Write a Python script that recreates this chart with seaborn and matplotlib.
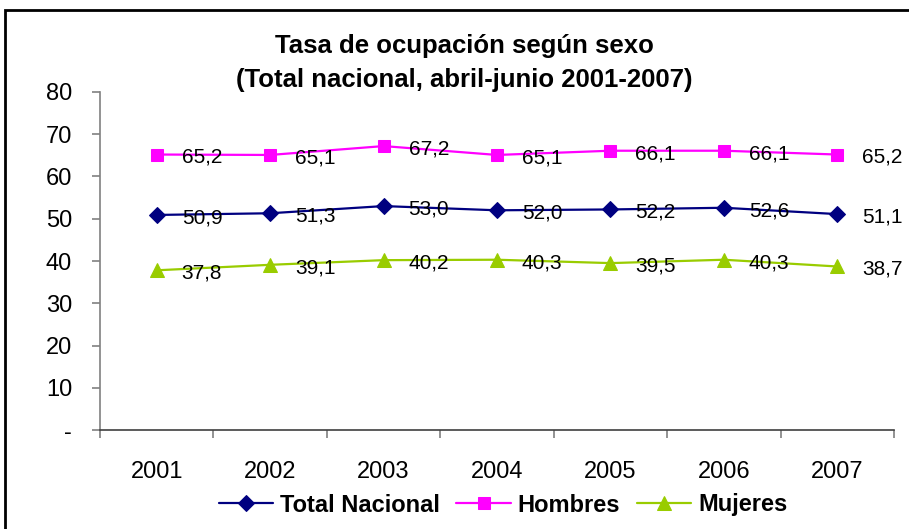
import matplotlib
matplotlib.use("Agg")
import matplotlib.pyplot as plt
import seaborn as sns
import pandas as pd
import numpy as np
from matplotlib.patches import Rectangle

sns.set_style("white")
plt.rcParams['font.family'] = ['Liberation Sans', 'DejaVu Sans']
plt.rcParams['text.color'] = 'black'
plt.rcParams['xtick.color'] = 'black'
plt.rcParams['ytick.color'] = 'black'

years = ['2001', '2002', '2003', '2004', '2005', '2006', '2007']
total = [50.9, 51.3, 53.0, 52.0, 52.2, 52.6, 51.1]
hombres = [65.2, 65.1, 67.2, 65.1, 66.1, 66.1, 65.2]
mujeres = [37.8, 39.1, 40.2, 40.3, 39.5, 40.3, 38.7]

series = ['Total Nacional', 'Hombres', 'Mujeres']
colors = ['#000080', '#FF00FF', '#99CC00']
markers = ['D', 's', '^']
sizes = [8, 9, 10]

df = pd.DataFrame({
    'pos': list(range(len(years))) * 3,
    'valor': total + hombres + mujeres,
    'serie': [s for s in series for _ in years],
})

fig = plt.figure(figsize=(9.09, 5.29), dpi=100)
ax = fig.add_axes([100 / 909, 1 - 430 / 529, 794 / 909, 338 / 529])

for s, c, m, ms in zip(series, colors, markers, sizes):
    sub = df[df['serie'] == s]
    sns.lineplot(data=sub, x='pos', y='valor', color=c, marker=m, markersize=ms,
                 markeredgecolor=c, linewidth=1.6, label=s, ax=ax)
    for x, y in zip(sub['pos'], sub['valor']):
        ax.annotate(f"{y:.1f}".replace('.', ','), (x, y), xytext=(18, -2),
                    textcoords='offset points', fontsize=15, va='center', ha='left',
                    color='black', annotation_clip=False)

ax.set_xlim(-0.5, 6.5)
ax.set_ylim(0, 80)
ax.set_xticks(range(len(years)))
ax.set_xticklabels(years)
ax.set_xticks(np.arange(-0.5, 7, 1), minor=True)
ax.set_yticks(range(0, 81, 10))
ax.set_yticklabels(['-'] + [str(v) for v in range(10, 81, 10)])
ax.tick_params(axis='x', which='major', bottom=True, length=0, pad=22, labelsize=17)
ax.tick_params(axis='x', which='minor', bottom=True, length=6, width=1.2, color='#808080',
               direction='out')
ax.tick_params(axis='y', left=True, length=6, width=1.2, color='#808080', direction='out',
               pad=14, labelsize=17)
ax.spines['top'].set_visible(False)
ax.spines['right'].set_visible(False)
ax.spines['left'].set_color('#808080')
ax.spines['bottom'].set_color('#404040')
for sp in ['left', 'bottom']:
    ax.spines[sp].set_linewidth(1.2)
ax.set_xlabel('')
ax.set_ylabel('')
ax.grid(False)

ax.legend(loc='center', bbox_to_anchor=(503 / 909, 1 - 505 / 529), bbox_transform=fig.transFigure,
          ncol=3, frameon=False, prop={'weight': 'bold', 'size': 17}, handlelength=2.3,
          handletextpad=0.3, columnspacing=0.7, borderpad=0)

fig.text(464 / 909, 1 - 46 / 529, 'Tasa de ocupación según sexo', ha='center', va='center',
         fontsize=18.5, fontweight='bold')
fig.text(464 / 909, 1 - 80 / 529, '(Total nacional, abril-junio 2001-2007)', ha='center',
         va='center', fontsize=18.5, fontweight='bold')

fig.patches.append(Rectangle((5 / 909, -0.1), 1.2, 1 - 10 / 529 + 0.1, transform=fig.transFigure,
                             fill=False, edgecolor='black', linewidth=2))

fig.savefig('out.png', dpi=100)
